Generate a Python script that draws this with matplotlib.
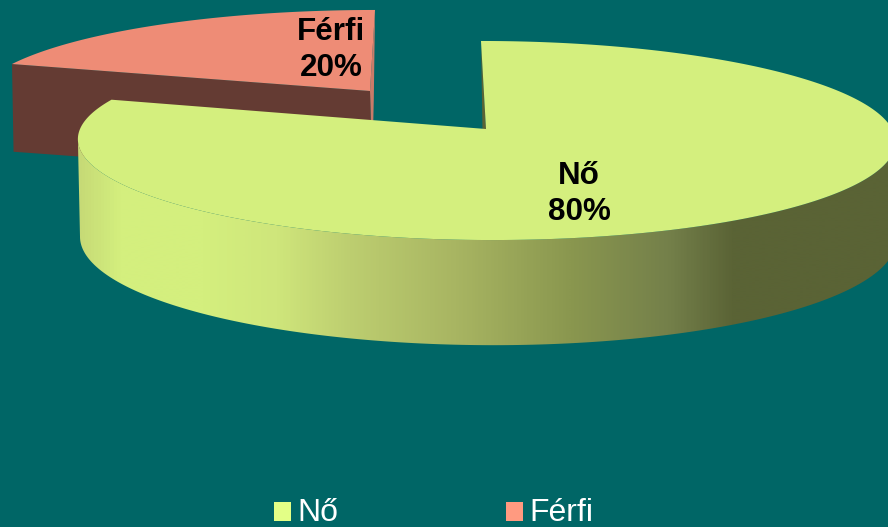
import numpy as np
import matplotlib
matplotlib.use("Agg")
import matplotlib.pyplot as plt
from matplotlib.patches import Polygon, Patch
from matplotlib.path import Path
from matplotlib.patches import PathPatch
from matplotlib.colors import LinearSegmentedColormap

categories = ["Nő", "Férfi"]
values = [80, 20]

BG = "#006666"
legend_colors = ["#E3FF86", "#FF9A80"]
top_colors = ["#D4EF7E", "#EE8C76"]
wall_colors = ["#5A6335", "#C97B69"]
front_male = "#643B33"

plt.rcParams["font.family"] = ["Liberation Sans", "DejaVu Sans"]

fig = plt.figure(figsize=(8.88, 5.27), dpi=100, facecolor=BG)
ax = fig.add_axes([0, 0, 1, 1])
ax.set_facecolor(BG)
ax.axis("off")


def rim(t, cx, cy, a, b, sk, k):
    u, v = np.sin(t), np.cos(t)
    s = 1 / (1 + k * v)
    return np.column_stack([cx + (a * u + sk * v) * s, cy - b * v * s])


def apex(g):
    return np.array([[g["cx"], g["cy"]]])


# slice angles from the values, clockwise from 12 o'clock
total = sum(values)
fr = np.cumsum([0] + values) / total * 2 * np.pi
geo_top = [dict(cx=486, cy=129, a=406, b=98.2, sk=-5.6, k=0.1156),
           dict(cx=370, cy=91, a=391.7, b=90.4, sk=5.6, k=0.1156)]
geo_bot = [dict(cx=488, cy=236, a=408, b=107, sk=-5.6, k=0.02),
           dict(cx=372, cy=178, a=391, b=88, sk=2, k=0.1156)]

# Male slice
t_m = np.linspace(fr[1], fr[2], 120)
m_top = rim(t_m, **geo_top[1])
m_bot = rim(t_m, **geo_bot[1])
ax.add_patch(Polygon(np.vstack([apex(geo_top[1]), m_top[-1:], m_bot[-1:], apex(geo_bot[1])]),
                     closed=True, fc=wall_colors[1], ec="none", zorder=1))
ax.add_patch(Polygon(np.vstack([apex(geo_top[1]), m_top[:1], m_bot[:1], apex(geo_bot[1])]),
                     closed=True, fc=front_male, ec="none", zorder=1))
ax.add_patch(Polygon(np.vstack([apex(geo_top[1]), m_top]), closed=True,
                     fc=top_colors[1], ec="none", zorder=2))

# Female slice
ts = np.linspace(fr[0], fr[1], 400)
f_top = rim(ts, **geo_top[0])
ax.add_patch(Polygon(np.vstack([apex(geo_top[0]), f_top[:1], rim(fr[:1], **geo_bot[0]), apex(geo_bot[0])]),
                     closed=True, fc=wall_colors[0], ec="none", zorder=3))

# curved outer side with a horizontal shading
lim_t = np.arcsin(geo_top[0]["k"])
lim_b = np.arcsin(geo_bot[0]["k"])
t_side_top = np.linspace(np.pi / 2 + lim_t, 3 * np.pi / 2 - lim_t, 300)
t_side_bot = np.linspace(3 * np.pi / 2 - lim_b, np.pi / 2 + lim_b, 300)
side = np.vstack([rim(t_side_top, **geo_top[0]), rim(t_side_bot, **geo_bot[0])])
stops = [(0.0, "#C6DA76"), (0.05, "#D4EF7E"), (0.15, "#D4EF7E"), (0.24, "#CFE67B"),
         (0.33, "#BDCE70"), (0.46, "#A8B562"), (0.60, "#8A974F"), (0.72, "#74804A"),
         (0.80, "#5A6335"), (1.0, "#5A6335")]
cmap = LinearSegmentedColormap.from_list("side", stops)
grad = np.linspace(0, 1, 820)[None, :]
im = ax.imshow(grad, cmap=cmap, extent=(78, 898, 350, 100), aspect="auto", zorder=4,
               interpolation="bilinear")
clip = PathPatch(Path(np.vstack([side, side[:1]]), closed=True), transform=ax.transData,
                 fc="none", ec="none")
ax.add_patch(clip)
im.set_clip_path(clip)

ax.add_patch(Polygon(np.vstack([apex(geo_top[0]), f_top]), closed=True,
                     fc=top_colors[0], ec="none", zorder=5))

# data labels
label_pos = [(579, 194), (331, 50)]
for cat, val, (x, y) in zip(categories, values, label_pos):
    ax.text(x, y, f"{cat}\n{val}%", ha="center", va="center", ma="center",
            fontsize=22.6, fontweight="bold", color="black", linespacing=1.28, zorder=6)

ax.set_xlim(0, 888)
ax.set_ylim(527, 0)

handles = [Patch(fc=c, ec="none") for c in legend_colors]
leg = ax.legend(handles, categories, loc="lower left", bbox_to_anchor=(274, 527 + 1),
                bbox_transform=ax.transData, ncol=2, frameon=False, fontsize=23, labelcolor="white",
                handlelength=0.53, handleheight=0.53, handletextpad=0.2, columnspacing=5.24,
                borderpad=0, borderaxespad=0)
for p in leg.get_patches():
    p.set_y(p.get_y() - 1.6)

fig.savefig("out.png", dpi=100, facecolor=BG)
